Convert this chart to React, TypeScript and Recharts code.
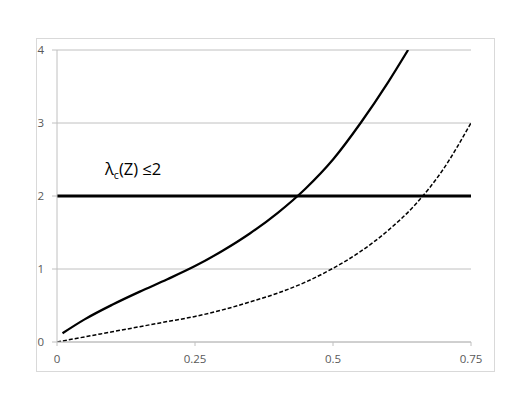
import React from "react";
import {
  LineChart,
  Line,
  XAxis,
  YAxis,
  CartesianGrid,
  ReferenceLine,
} from "recharts";

const solidX = [0.01, 0.05, 0.1, 0.15, 0.2, 0.25, 0.3, 0.35, 0.4, 0.45, 0.5, 0.55, 0.6, 0.636];
const solidY = [0.12, 0.31, 0.51, 0.69, 0.86, 1.04, 1.25, 1.49, 1.77, 2.1, 2.5, 3.0, 3.56, 4.0];

const dashedX = [0, 0.05, 0.1, 0.15, 0.2, 0.25, 0.3, 0.35, 0.4, 0.45, 0.5, 0.55, 0.6, 0.65, 0.7, 0.75];
const dashedY = [0, 0.07, 0.14, 0.21, 0.28, 0.35, 0.44, 0.55, 0.67, 0.82, 1.01, 1.24, 1.53, 1.89, 2.37, 3.0];

const xTicks = [0, 0.25, 0.5, 0.75];
const xTickLabels = ["0", "0.25", "0.5", "0.75"];
const yTicks = [0, 1, 2, 3, 4];
const yTickLabels = ["0", "1", "2", "3", "4"];

const thresholdValue = 2;
const annotationMain = "λ";
const annotationSub = "c";
const annotationRest = "(Z) ≤2";

const solidData = solidX.map((x, i) => ({ x, y: solidY[i] }));
const dashedData = dashedX.map((x, i) => ({ x, y: dashedY[i] }));

const FONT = "'Open Sans', 'Liberation Sans', sans-serif";
const GRID = "#c0c0c0";
const TEXT = "#595959";

const AnnotationLabel = (props: any) => {
  const vb = props.viewBox || {};
  const x = (vb.x ?? 0) + 48;
  const y = (vb.y ?? 0) - 21;
  return (
    <text x={x} y={y} fontFamily={FONT} fontSize={16.5} fill="#000">
      <tspan>{annotationMain}</tspan>
      <tspan dy={4} fontSize={10.5}>{annotationSub}</tspan>
      <tspan dy={-4}>{annotationRest}</tspan>
    </text>
  );
};

export default function App() {
  return (
    <div style={{ position: "absolute", left: 0, top: 0, width: 532, height: 411, background: "#fff" }}>
      <div
        style={{
          position: "absolute",
          left: 36,
          top: 38,
          width: 459,
          height: 334,
          border: "1px solid #d9d9d9",
          boxSizing: "border-box",
        }}
      />
      <div style={{ position: "absolute", left: 0, top: 0 }}>
        <LineChart
          width={532}
          height={411}
          margin={{ top: 50, right: 61, bottom: 40, left: 36 }}
        >
          <CartesianGrid horizontal={true} vertical={false} stroke={GRID} strokeWidth={1} />
          <XAxis
            type="number"
            dataKey="x"
            domain={[0, 0.75]}
            ticks={xTicks}
            tickFormatter={(v: number) => xTickLabels[xTicks.indexOf(v)] ?? String(v)}
            allowDataOverflow
            height={29}
            stroke={GRID}
            tickLine={{ stroke: GRID }}
            tickSize={4}
            tickMargin={9}
            tick={{ fill: TEXT, fontSize: 11.5, fontFamily: FONT }}
          />
          <YAxis
            type="number"
            domain={[0, 4]}
            ticks={yTicks}
            tickFormatter={(v: number) => yTickLabels[yTicks.indexOf(v)] ?? String(v)}
            allowDataOverflow
            width={21}
            stroke={GRID}
            tickLine={{ stroke: GRID }}
            tickSize={5}
            tickMargin={8}
            tick={{ fill: TEXT, fontSize: 11.5, fontFamily: FONT }}
          />
          <ReferenceLine
            y={thresholdValue}
            stroke="#000"
            strokeWidth={3}
            label={<AnnotationLabel />}
          />
          <Line
            data={dashedData}
            dataKey="y"
            type="monotone"
            stroke="#000"
            strokeWidth={1.5}
            strokeDasharray="4 2"
            dot={false}
            activeDot={false}
            isAnimationActive={false}
          />
          <Line
            data={solidData}
            dataKey="y"
            type="monotone"
            stroke="#000"
            strokeWidth={2.25}
            dot={false}
            activeDot={false}
            isAnimationActive={false}
          />
        </LineChart>
      </div>
    </div>
  );
}
